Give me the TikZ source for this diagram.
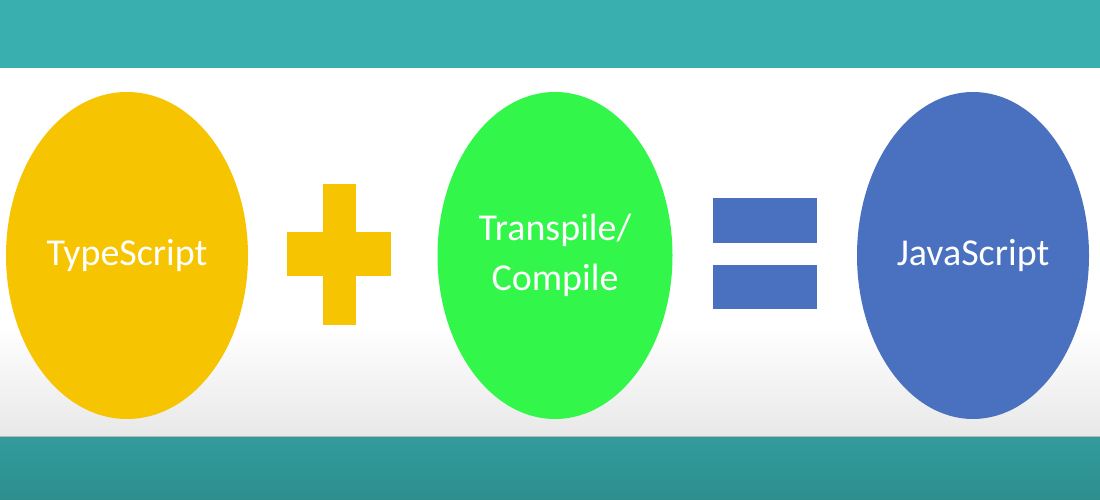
\documentclass[tikz,border=0pt]{standalone}
\usepackage{fontspec}
\setmainfont{Carlito}
\usepackage{tikz}
\usetikzlibrary{shapes.geometric}
\definecolor{bandc}{RGB}{58,175,176}
\definecolor{bandlowc}{RGB}{50,155,155}
\definecolor{bandlowdc}{RGB}{46,142,142}
\definecolor{tsc}{RGB}{246,196,0}
\definecolor{tcc}{RGB}{51,246,74}
\definecolor{jsc}{RGB}{74,112,192}
\tikzset{
  bubble/.style = {ellipse, inner sep=0pt, minimum height=327pt, align=center,
                   text=white, font=\fontsize{38}{50}\selectfont},
}

\begin{document}
\begin{tikzpicture}[x=1pt, y=1pt]
\useasboundingbox (0,0) rectangle (1100,500);

% ---- background bands ----
\fill[white] (0,63) rectangle (1100,432);
\shade[top color=white, bottom color=gray!18] (0,63) rectangle (1100,175);
\fill[bandc] (0,432) rectangle (1100,500);
\shade[top color=bandlowc, bottom color=bandlowdc] (0,0) rectangle (1100,63);
\draw[gray!55, line width=1pt] (0,63) -- (1100,63);

% ---- the three bubbles ----
\node[bubble, fill=tsc, minimum width=242pt] (ts) at (127,244.5) {TypeScript};
\node[bubble, fill=tcc, minimum width=235pt] (tc) at (555,244.5) {Transpile/\\Compile};
\node[bubble, fill=jsc, minimum width=232pt] (js) at (973,244.5) {JavaScript};

% ---- plus and equals ----
\fill[tsc] (323,175) rectangle (356,316);
\fill[tsc] (287,224) rectangle (391,268);
\fill[jsc] (713,257) rectangle (817,302);
\fill[jsc] (713,191) rectangle (817,235);

\end{tikzpicture}
\end{document}
